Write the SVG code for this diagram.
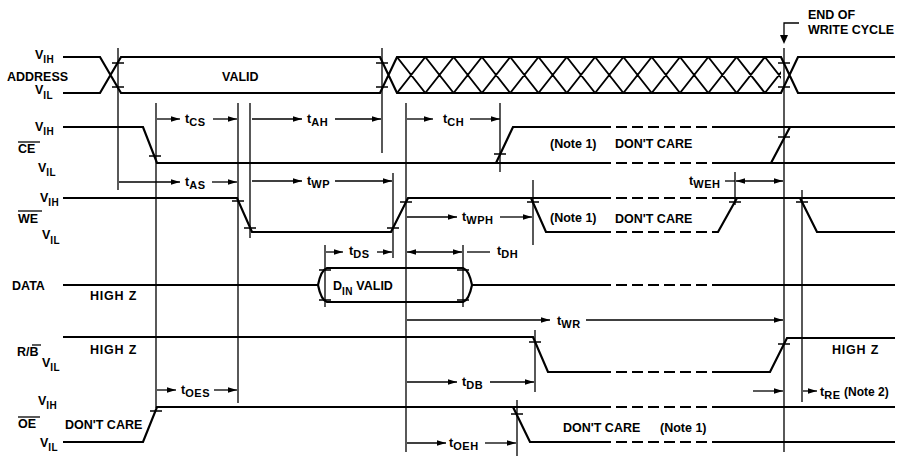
<svg xmlns="http://www.w3.org/2000/svg" width="906" height="456" viewBox="0 0 906 456">
<defs>
<marker id="ah" viewBox="0 0 10 6" refX="10" refY="3" markerWidth="9" markerHeight="6" markerUnits="userSpaceOnUse" orient="auto-start-reverse"><path d="M0,0 L10,3 L0,6 z" fill="#000"/></marker>
<clipPath id="hc"><rect x="397" y="50" width="384" height="50"/></clipPath>
</defs>
<style>
.s{fill:none;stroke:#000;stroke-width:2.2;stroke-linejoin:miter}
.h{fill:none;stroke:#000;stroke-width:1.9}
.d{stroke-dasharray:11 5}
.r{fill:none;stroke:#000;stroke-width:1.3}
.k{fill:none;stroke:#000;stroke-width:1.5}
.m{fill:none;stroke:#000;stroke-width:1.3}
.ms{marker-start:url(#ah)}
.me{marker-end:url(#ah)}
text{font-family:"Liberation Sans",Arial,Helvetica,sans-serif;font-weight:bold;font-size:12.5px;fill:#000}
.sb{font-size:10px;letter-spacing:0.4px}
.ds{font-size:11px;letter-spacing:0.6px}
</style>
<rect width="906" height="456" fill="#fff"/>

<g id="labels">
<text x="35" y="59">V<tspan class="sb" dy="4">IH</tspan></text>
<text x="7" y="81">ADDRESS</text>
<text x="35" y="94">V<tspan class="sb" dy="5">IL</tspan></text>

<text x="35" y="131">V<tspan class="sb" dy="4">IH</tspan></text>
<text x="18" y="153">CE</text>
<line class="r" x1="18" y1="142" x2="40" y2="142"/>
<text x="38" y="172">V<tspan class="sb" dy="4">IL</tspan></text>

<text x="40" y="202">V<tspan class="sb" dy="4">IH</tspan></text>
<text x="18" y="223">WE</text>
<line class="r" x1="18" y1="211" x2="42" y2="211"/>
<text x="42" y="239">V<tspan class="sb" dy="5">IL</tspan></text>

<text x="12" y="290">DATA</text>
<text x="90" y="300" style="letter-spacing:0.8px">HIGH Z</text>

<text x="17" y="356">R/B</text>
<line class="r" x1="32" y1="345" x2="41" y2="345"/>
<text x="90" y="354" style="letter-spacing:0.8px">HIGH Z</text>
<text x="42" y="367">V<tspan class="sb" dy="4">IL</tspan></text>

<text x="38" y="405">V<tspan class="sb" dy="4">IH</tspan></text>
<text x="18" y="428">OE</text>
<line class="r" x1="18" y1="417" x2="40" y2="417"/>
<text x="40" y="447">V<tspan class="sb" dy="4">IL</tspan></text>
</g>

<g id="address">
<path class="s" d="M63,57 H100 L121,93 H380 L397,57 H781 L798,93 H895 M63,93 H100 L121,57 H380 L397,93 H781 L798,57 H895"/>
<path class="h" clip-path="url(#hc)" d="M397,57 L425.3,93 M397,93 L425.3,57 M425.3,57 L453.6,93 M425.3,93 L453.6,57 M453.6,57 L481.9,93 M453.6,93 L481.9,57 M481.9,57 L510.2,93 M481.9,93 L510.2,57 M510.2,57 L538.5,93 M510.2,93 L538.5,57 M538.5,57 L566.8,93 M538.5,93 L566.8,57 M566.8,57 L595.1,93 M566.8,93 L595.1,57 M595.1,57 L623.4,93 M595.1,93 L623.4,57 M623.4,57 L651.7,93 M623.4,93 L651.7,57 M651.7,57 L680,93 M651.7,93 L680,57 M680,57 L708.3,93 M680,93 L708.3,57 M708.3,57 L736.6,93 M708.3,93 L736.6,57 M736.6,57 L764.9,93 M736.6,93 L764.9,57 M764.9,57 L793.2,93 M764.9,93 L793.2,57"/>
<path class="k" d="M112,63 h12 M112,87 h12 M376,63 h12 M376,87 h12 M778,63 h12 M778,87 h12"/>
<text x="222" y="81">VALID</text>
</g>

<g id="ce">
<path class="s" d="M63,127 H143 L157,163 H600 M496,163 L513,127 H600 M723,163 H895 M723,127 H895 M771,163 L790,127"/>
<path class="s d" d="M600,163 H723 M600,127 H723"/>
<path class="k" d="M149,156 h12 M494,154 h12 M778,137 h12"/>
<text x="550" y="148">(Note 1)</text>
<text x="615" y="148">DON'T CARE</text>
</g>

<g id="we">
<path class="s" d="M63,198 H237 L252,232 H391 L408,198 H600 M531,198 L546,232 H600 M713,232 H718 L737,198 M723,198 H895 M800,198 L817,232 H895"/>
<path class="s d" d="M600,198 H723 M600,232 H713"/>
<path class="k" d="M232,201 h12 M244,228 h12 M387,228 h12 M400,202 h12 M527,202 h12 M729,202 h12 M796,202 h12"/>
<text x="550" y="222">(Note 1)</text>
<text x="615" y="223">DON'T CARE</text>
</g>

<g id="data">
<path class="s" d="M63,285 H318 M472,285 H600 M723,285 H895"/>
<path class="s d" d="M600,285 H723"/>
<path class="s" d="M318,285 Q321,270 327,268 H463 Q469,270 472,285 Q469,300 463,302 H327 Q321,300 318,285 Z"/>
<path class="k" d="M319,270 h12 M319,300 h12 M457,270 h12 M457,300 h12"/>
<text x="333" y="290">D<tspan class="sb" dy="5">IN</tspan><tspan dy="-5"> VALID</tspan></text>
</g>

<g id="rb">
<path class="s" d="M63,337 H533 L548,372 H600 M723,372 H770 L787,338 H895"/>
<path class="s d" d="M600,372 H723"/>
<path class="k" d="M529,342 h12 M778,344 h12"/>
<text x="832" y="354" style="letter-spacing:0.8px">HIGH Z</text>
</g>

<g id="oe">
<path class="s" d="M63,442 H143 L157,407 H600 M513,407 L530,442 H600 M723,407 H895 M723,442 H895"/>
<path class="s d" d="M600,407 H723 M600,442 H723"/>
<path class="k" d="M150,411 h12 M511,414 h12"/>
<text x="65" y="429">DON'T CARE</text>
<text x="563" y="432">DON'T CARE</text>
<text x="660" y="432">(Note 1)</text>
</g>

<g id="connectors">
<path class="r" d="M118,48 V190 M156,103 V408 M238,103 V403 M250,103 V238 M382,48 V153 M393,173 V258 M406,103 V452 M500,103 V172 M325,245 V307 M463,245 V307 M533,180 V245 M535,330 V392 M517,400 V456 M735,172 V205 M784,48 V452 M802,190 V402"/>
<path class="m" d="M799,23 H784 V36"/>
<path d="M780,35 L788,35 L784,44 z" fill="#000"/>
<text x="808" y="19">END OF</text>
<text x="808" y="34">WRITE CYCLE</text>

<path class="m ms" d="M180,119 H157"/><path class="m me" d="M213,119 H237"/>
<text x="185" y="123">t<tspan class="ds" dy="3">CS</tspan></text>
<path class="m ms" d="M302,119 H252"/><path class="m me" d="M335,119 H381"/>
<text x="307" y="123">t<tspan class="ds" dy="3">AH</tspan></text>
<path class="m ms" d="M433,119 H407"/><path class="m me" d="M470,119 H500"/>
<text x="443" y="123">t<tspan class="ds" dy="3">CH</tspan></text>

<path class="m ms" d="M180,182 H119"/><path class="m me" d="M212,182 H237"/>
<text x="185" y="186">t<tspan class="ds" dy="3">AS</tspan></text>
<path class="m ms" d="M302,181 H252"/><path class="m me" d="M335,181 H392"/>
<text x="307" y="185">t<tspan class="ds" dy="3">WP</tspan></text>
<path class="m" d="M725,181 H735"/><path class="m ms me" d="M736,181 H783"/>
<text x="689" y="185">t<tspan class="ds" dy="3">WEH</tspan></text>

<path class="m ms" d="M457,217 H407"/><path class="m me" d="M500,217 H532"/>
<text x="462" y="221">t<tspan class="ds" dy="3">WPH</tspan></text>

<path class="m ms" d="M343,252 H326"/><path class="m me" d="M377,252 H392"/>
<text x="349" y="255">t<tspan class="ds" dy="3">DS</tspan></text>
<path class="m ms me" d="M407,252 H462"/><path class="m" d="M467,252 H490"/>
<text x="497" y="255">t<tspan class="ds" dy="3">DH</tspan></text>

<path class="m ms" d="M550,320 H407"/><path class="m me" d="M586,320 H783"/>
<text x="557" y="325">t<tspan class="ds" dy="3">WR</tspan></text>

<path class="m ms" d="M457,382 H407"/><path class="m me" d="M490,382 H534"/>
<text x="462" y="386">t<tspan class="ds" dy="3">DB</tspan></text>

<path class="m ms" d="M176,390 H157"/><path class="m me" d="M214,390 H237"/>
<text x="181" y="394">t<tspan class="ds" dy="3">OES</tspan></text>

<path class="m me" d="M753,391 H783"/><path class="m ms" d="M817,391 H803"/>
<text x="820" y="396">t<tspan class="ds" dy="3">RE</tspan><tspan dy="-3" style="font-size:12px"> (Note 2)</tspan></text>

<path class="m ms" d="M446,443 H407"/><path class="m me" d="M485,443 H516"/>
<text x="449" y="447">t<tspan class="ds" dy="3">OEH</tspan></text>
</g>
</svg>
